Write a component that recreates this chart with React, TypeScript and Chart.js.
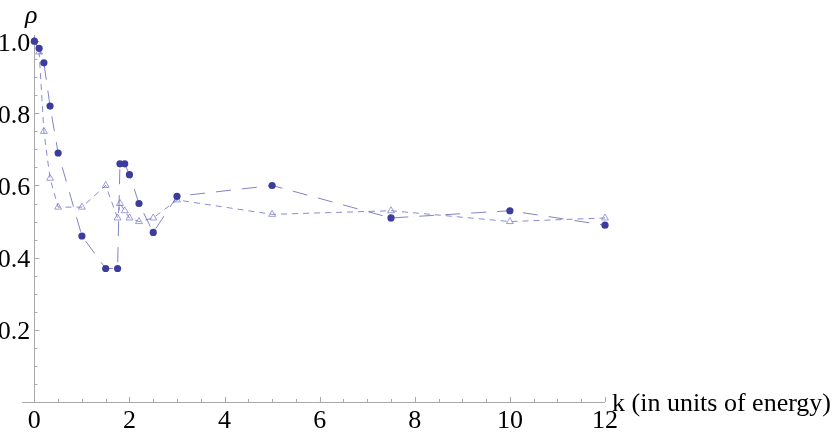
import React, { useEffect, useRef } from "react";
import { Chart, registerables } from "chart.js";

Chart.register(...registerables);

const kValues = [0, 0.1, 0.2, 0.33, 0.5, 1, 1.5, 1.75, 1.8, 1.9, 2, 2.2, 2.5, 3, 5, 7.5, 10, 12];
const rhoCircles = [1.0, 0.98, 0.94, 0.82, 0.69, 0.46, 0.37, 0.37, 0.66, 0.66, 0.63, 0.55, 0.47, 0.57, 0.6, 0.51, 0.53, 0.49];
const rhoTriangles = [1.0, 0.97, 0.75, 0.62, 0.54, 0.54, 0.6, 0.51, 0.55, 0.53, 0.51, 0.5, 0.51, 0.56, 0.52, 0.53, 0.5, 0.51];

const xTickLabels = [0, 2, 4, 6, 8, 10, 12];
const xMinorStep = 0.5;
const yTickLabels = ["0.2", "0.4", "0.6", "0.8", "1.0"];
const yMinorStep = 0.05;

const xAxisTitle = "k (in units of energy)";
const yAxisTitle = "ρ";

const FONT = '"Liberation Serif", "Times New Roman", Times, "DejaVu Serif", serif';

const axesPlugin = {
  id: "mmaAxes",
  beforeDatasetsDraw(chart: any) {
    const ctx = chart.ctx as CanvasRenderingContext2D;
    const xs = chart.scales.x;
    const ys = chart.scales.y;
    const area = chart.chartArea;
    const x0 = xs.getPixelForValue(0);
    const y0 = ys.getPixelForValue(0);
    ctx.save();
    ctx.strokeStyle = "#a8a8a8";
    ctx.lineWidth = 1;
    ctx.beginPath();
    ctx.moveTo(area.left, Math.round(y0) + 0.5);
    ctx.lineTo(area.right, Math.round(y0) + 0.5);
    ctx.stroke();
    ctx.beginPath();
    ctx.moveTo(Math.round(x0) + 0.5, y0);
    ctx.lineTo(Math.round(x0) + 0.5, area.top);
    ctx.stroke();
    const xMax = xs.max;
    for (let v = 0; v <= xMax + 1e-9; v += xMinorStep) {
      const px = Math.round(xs.getPixelForValue(v)) + 0.5;
      const major = Math.abs(v / 2 - Math.round(v / 2)) < 1e-6;
      const len = major ? 5 : 3;
      ctx.beginPath();
      ctx.moveTo(px, y0);
      ctx.lineTo(px, y0 - len);
      ctx.stroke();
    }
    for (let i = 1; i * yMinorStep <= ys.max + 1e-9; i++) {
      const v = i * yMinorStep;
      const py = Math.round(ys.getPixelForValue(v)) + 0.5;
      const major = i % 4 === 0;
      const len = major ? 5 : 3;
      ctx.beginPath();
      ctx.moveTo(x0, py);
      ctx.lineTo(x0 + len, py);
      ctx.stroke();
    }
    ctx.fillStyle = "#000";
    ctx.font = `26px ${FONT}`;
    ctx.textBaseline = "alphabetic";
    ctx.textAlign = "center";
    for (const t of xTickLabels) {
      ctx.fillText(String(t), xs.getPixelForValue(t), y0 + 26);
    }
    ctx.textAlign = "right";
    for (const t of yTickLabels) {
      ctx.fillText(t, x0 - 4, ys.getPixelForValue(parseFloat(t)) + 9.5);
    }
    ctx.textAlign = "left";
    ctx.fillText(xAxisTitle, area.right + 7, y0 + 9);
    ctx.textAlign = "center";
    ctx.font = `italic 26px ${FONT}`;
    ctx.fillText(yAxisTitle, x0 - 3, area.top - 12);
    ctx.restore();
  },
};

export default function App() {
  const ref = useRef<HTMLCanvasElement | null>(null);
  useEffect(() => {
    if (!ref.current) return;
    const chart = new Chart(ref.current, {
      type: "scatter",
      data: {
        datasets: [
          {
            label: "circles",
            data: kValues.map((k, i) => ({ x: k, y: rhoCircles[i] })),
            showLine: true,
            borderColor: "rgba(100,100,185,0.8)",
            borderWidth: 1,
            borderDash: [15, 11],
            pointStyle: "circle",
            pointRadius: 3.6,
            pointBackgroundColor: "#3c3c9c",
            pointBorderColor: "#3c3c9c",
            pointBorderWidth: 0,
            clip: false as any,
          },
          {
            label: "triangles",
            data: kValues.map((k, i) => ({ x: k, y: rhoTriangles[i] })),
            showLine: true,
            borderColor: "rgba(110,110,200,0.8)",
            borderWidth: 1,
            borderDash: [6, 5],
            pointStyle: "triangle",
            pointRadius: 4,
            pointBackgroundColor: "rgba(255,255,255,0)",
            pointBorderColor: "rgba(120,120,200,0.9)",
            pointBorderWidth: 0.8,
            clip: false as any,
          },
        ],
      },
      options: {
        responsive: false,
        animation: false,
        layout: { padding: { left: 22, right: 230, top: 35, bottom: 32 } },
        plugins: { legend: { display: false }, tooltip: { enabled: false } },
        scales: {
          x: { type: "linear", min: -0.26, max: 12.0, display: false },
          y: { type: "linear", min: 0, max: 1.017, display: false },
        },
      },
      plugins: [axesPlugin],
    });
    const fonts = (document as any).fonts;
    if (fonts && fonts.load) {
      Promise.all([
        fonts.load('26px "Liberation Serif"'),
        fonts.load('italic 26px "Liberation Serif"'),
      ]).then(() => chart.update()).catch(() => {});
    }
    return () => chart.destroy();
  }, []);
  return (
    <div style={{ position: "absolute", left: 0, top: 0, width: 835, height: 434, background: "#fff" }}>
      <span style={{ fontFamily: FONT, position: "absolute", left: -1000, fontSize: 26 }}>ρ k</span>
      <span style={{ fontFamily: FONT, fontStyle: "italic", position: "absolute", left: -1000, fontSize: 26 }}>ρ</span>
      <canvas ref={ref} width={835} height={434} />
    </div>
  );
}
